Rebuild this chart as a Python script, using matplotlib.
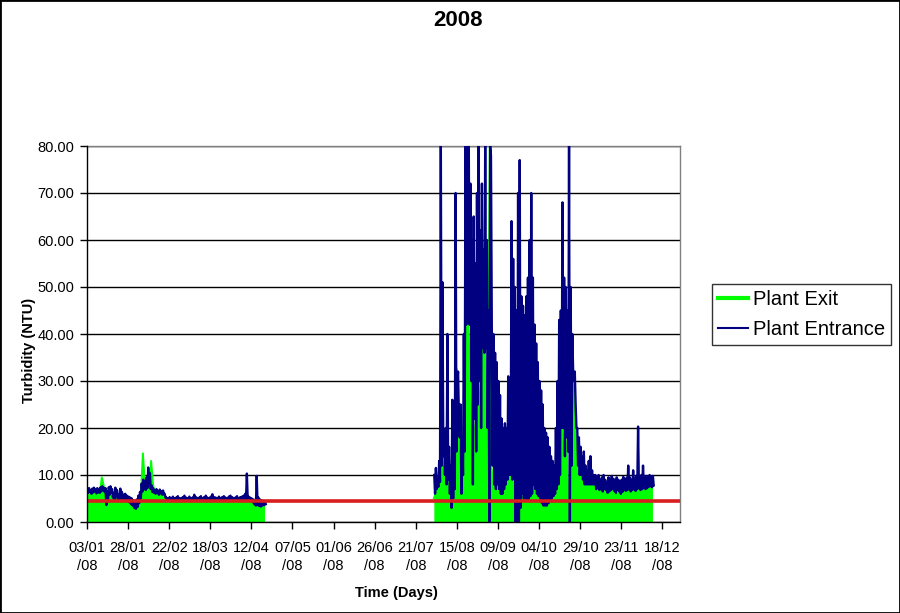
import numpy as np
import pandas as pd
import matplotlib
matplotlib.use("Agg")
import matplotlib.pyplot as plt
import matplotlib.dates as mdates
from matplotlib.lines import Line2D
from matplotlib.patches import Rectangle

plt.rcParams['font.family'] = ['Liberation Sans', 'DejaVu Sans']

title = "2008"
series_names = ["Plant Exit", "Plant Entrance"]
x_label = "Time (Days)"
y_label = "Turbidity (NTU)"
threshold = 4.4
y_ticks = [0, 10, 20, 30, 40, 50, 60, 70, 80]
x_first_tick = "2008-01-03"
x_last_tick = "2008-12-18"
x_end = "2008-12-28 18:00"

# ---- Segment 1: 03/01/08 .. 20/04/08 (daily readings) ----
seg1_start = "2008-01-03"
seg1_exit = [6.2, 6.4, 6.0, 6.3, 6.5, 6.1, 6.3, 6.0, 6.4,
             9.5, 8.0,
             5.6, 5.0, 5.8, 6.0,
             5.2, 5.0, 5.3, 4.9, 4.8, 5.1, 4.9, 4.7, 4.8, 4.6,
             4.4, 4.2, 4.0, 3.8, 3.7, 3.9, 4.3, 5.0,
             7.0, 14.6, 9.0,
             6.8, 7.0, 6.5,
             13.0, 8.5,
             6.2, 6.0, 6.1, 5.9, 5.8, 6.0, 5.0,
             4.6, 4.7, 4.6, 4.5, 4.7, 4.6, 4.6, 4.7, 4.5, 4.6,
             4.7, 4.6, 4.5, 4.6, 4.7, 4.6, 4.5, 4.7, 4.6, 4.6,
             4.5, 4.7, 4.6, 4.6, 4.7, 4.5, 4.6, 4.7, 4.6, 4.5,
             4.6, 4.7, 4.6, 4.5, 4.6, 4.7, 4.6, 4.6, 4.5, 4.7,
             4.6, 4.5, 4.6, 4.7, 4.6, 4.5, 4.6, 4.7,
             4.7, 4.8, 4.6, 4.5, 4.3, 4.2, 4.1, 4.2, 4.0, 4.1, 4.2, 4.3, 4.1]
seg1_ent_hi = [7.0, 7.2, 6.8, 7.1, 7.3, 6.9, 7.2,
               7.0, 7.4, 7.6, 7.3,
               7.2, 6.5, 7.4, 7.6,
               7.0, 6.2, 7.3, 6.8, 5.9, 7.1, 6.4, 5.8, 6.0, 5.6,
               5.4, 5.2, 5.0, 4.6, 4.2, 4.8, 5.6, 6.4,
               8.2, 9.0, 8.4,
               9.5, 11.6, 10.4,
               7.8, 7.2,
               6.8, 7.0, 6.6, 6.9, 6.5, 6.7, 6.0,
               5.2, 5.0, 5.3, 5.1, 5.4, 5.0, 5.2, 5.5, 5.1, 5.0,
               5.3, 5.6, 5.2, 5.0, 5.4, 5.1, 5.2, 5.8, 5.3, 5.1,
               5.2, 5.5, 5.0, 5.3, 5.6, 5.2, 5.1, 5.4, 5.9, 5.3,
               5.2, 5.0, 5.4, 5.1, 5.3, 5.5, 5.2, 5.0, 5.4, 5.6,
               5.3, 5.1, 5.2, 5.5, 5.0, 5.3, 5.4, 5.6,
               6.0, 10.3, 5.4, 5.2, 5.0, 4.8, 4.6, 9.8, 5.2, 4.8, 4.6, 4.5, 4.4]
seg1_ent_lo = [6.2, 6.4, 6.0, 6.3, 6.5, 6.1, 6.3,
               6.2, 6.5, 6.8, 6.4,
               3.6, 4.5, 5.8, 6.2,
               5.2, 4.8, 5.5, 4.9, 4.6, 5.3, 4.8, 4.5, 4.7, 4.4,
               4.2, 3.8, 3.5, 3.0, 2.8, 3.2, 4.0, 5.0,
               6.5, 7.0, 6.8,
               7.2, 7.8, 7.0,
               6.4, 6.2,
               6.0, 6.2, 5.8, 6.1, 5.8, 5.9, 5.2,
               4.8, 4.7, 4.9, 4.8, 4.7, 4.8, 4.9, 4.8, 4.7, 4.8,
               4.9, 4.8, 4.7, 4.8, 4.9, 4.7, 4.8, 4.9, 4.8, 4.7,
               4.8, 4.9, 4.7, 4.8, 4.9, 4.8, 4.7, 4.8, 4.9, 4.8,
               4.7, 4.8, 4.9, 4.7, 4.8, 4.9, 4.8, 4.7, 4.8, 4.9,
               4.8, 4.7, 4.8, 4.9, 4.7, 4.8, 4.9, 4.8,
               4.8, 4.9, 4.7, 4.6, 4.2, 3.8, 3.5, 3.6, 3.4, 3.3, 3.5, 3.6, 3.8]

# ---- Segment 2: 01/08/08 .. 12/12/08 (daily readings) ----
seg2_start = "2008-08-01"
seg2_exit = [5, 6, 7, 8, 12, 14, 10, 8, 9, 8,
             5, 6, 7, 15, 32.5, 18, 8, 10, 15, 42,
             64, 42, 30, 12, 22, 15, 25, 30, 20, 37,
             36, 37, 20, 18, 80, 12, 8, 7, 8, 7,
             6, 6, 7, 8, 9, 10, 10, 9, 10, 0,
             0, 0, 4, 6, 5, 5, 4.5, 5, 5.5, 6,
             8, 7, 6, 5.5, 5, 4.5, 4, 4, 4, 4.2,
             4.5, 5, 5.5, 6, 7, 8, 10, 20, 20, 14,
             18, 15, 0, 12, 32, 32, 20, 12, 10, 10,
             9, 8, 8, 8, 8, 8, 8, 8,
             7.8, 8.0, 7.6, 7.5, 7.2, 7.6, 7.4, 7.0, 7.2, 7.5,
             7.8, 7.4, 7.0, 7.5, 7.2, 6.8, 7.2, 7.6, 7.4, 7.5,
             7.8, 7.4, 7.5, 7.8, 7.4, 7.6, 7.8, 7.5, 7.6, 8.0,
             7.8, 7.9, 8.0, 8.2, 8.0, 8.3]
seg2_ent_hi = [10, 11.5, 9, 13, 80, 51, 18, 20, 40, 16,
               12, 26, 20, 70, 30, 22, 25, 18, 40, 80,
               80, 80, 72, 60, 65, 55, 70, 80, 62, 72,
               58, 80, 60, 45, 80, 42, 40, 36, 34, 30,
               27, 22, 20, 21, 20, 31, 22, 64, 56, 50,
               45, 70, 77, 48, 46, 44, 48, 52, 60, 70,
               52, 42, 38, 34, 30, 28, 25, 20, 19, 18,
               16, 14, 13, 12, 20, 30, 43, 45, 68, 52,
               50, 45, 80, 50, 40, 30, 25, 20, 18, 16,
               14, 15, 12, 11, 13, 14, 11, 10,
               10, 9.5, 10, 9, 9.5, 10, 9, 8.5, 9.5, 9,
               9.8, 9.2, 8.8, 9.5, 9, 8.5, 9, 9.6, 9, 9.4,
               12, 9.5, 9, 11, 9.2, 9.8, 20.3, 9.5, 10, 12,
               9.4, 9.8, 9.2, 10, 9.6, 9.8]
seg2_ent_lo = [6, 7, 7.5, 8.5, 12, 14, 10, 8, 9, 6,
               3, 5, 7, 15, 32, 18, 6, 10, 15, 42,
               64, 42, 30, 8, 22, 15, 25, 30, 20, 37,
               36, 37, 20, 0, 78, 12, 8, 7, 8, 7,
               6, 6, 7, 8, 9, 10, 10, 9, 10, 0,
               0, 0, 3, 6, 5, 5, 4.5, 5, 5.5, 6,
               8, 7, 6, 5.5, 5, 4, 3.5, 3.5, 3.5, 4,
               4.5, 5, 5.5, 6, 7, 8, 10, 20, 20, 14,
               18, 15, 0, 12, 32, 32, 20, 12, 10, 10,
               9, 8, 8, 8, 8, 8, 8, 8,
               7, 7.2, 6.8, 7, 6.5, 7, 6.8, 6.2, 6.5, 6.8,
               7, 6.6, 6.2, 6.8, 6.5, 6, 6.4, 7, 6.6, 6.8,
               7, 6.5, 6.8, 7, 6.6, 7, 7.2, 6.8, 7, 7.4,
               7, 7.2, 7.5, 7.6, 7.4, 7.8]

exit_color = "#00ff00"
ent_color = "#000080"
thr_color = "#d81e1e"

segments = [(seg1_start, seg1_exit, seg1_ent_hi, seg1_ent_lo),
            (seg2_start, seg2_exit, seg2_ent_hi, seg2_ent_lo)]

fig = plt.figure(figsize=(9.0, 6.13), dpi=100)
ax = fig.add_axes([87/900, 1-522/613, (680-87)/900, (522-146)/613])

ent_t, ent_v = [], []
for start, ex, hi, lo in segments:
    days = pd.date_range(start, periods=len(ex), freq="D")
    ax.fill_between(days, 0, ex, color=exit_color, lw=0, zorder=2)
    ax.plot(days, ex, color=exit_color, lw=1.4, zorder=2.1)
    for d, h, l in zip(days, hi, lo):
        ent_t += [d + pd.Timedelta(hours=6), d + pd.Timedelta(hours=18)]
        ent_v += [h, l]
    ent_t.append(days[-1] + pd.Timedelta(hours=23))
    ent_v.append(np.nan)

ax.plot(ent_t, ent_v, color=ent_color, lw=1.7, zorder=3)
ax.axhline(threshold, color=thr_color, lw=2.6, zorder=4)

ax.set_ylim(0, 80)
ax.set_xlim(pd.Timestamp(x_first_tick), pd.Timestamp(x_end))
ax.set_yticks(y_ticks)
ax.set_yticklabels([f"{v:.2f}" for v in y_ticks])
ticks = pd.date_range(x_first_tick, x_last_tick, freq="25D")
ax.set_xticks(ticks)
ax.set_xticklabels([t.strftime("%d/%m\n/%y") for t in ticks], linespacing=1.35)
ax.tick_params(axis='both', direction='out', length=5, width=1, labelsize=10.5, color='black')
ax.tick_params(axis='x', pad=9)
ax.tick_params(axis='y', pad=4)
ax.grid(axis='y', color='black', lw=1, zorder=1)
ax.set_axisbelow(True)
for s in ['top', 'right']:
    ax.spines[s].set_color('#808080')
    ax.spines[s].set_linewidth(1)
for s in ['left', 'bottom']:
    ax.spines[s].set_color('black')
    ax.spines[s].set_linewidth(1)
    ax.spines[s].set_zorder(5)

fig.text(458/900, 1-21/613, title, ha='center', va='center', fontsize=16, fontweight='bold')
fig.text(396/900, 1-593/613, x_label, ha='center', va='center', fontsize=10.5, fontweight='bold')
fig.text(29/900, 1-350/613, y_label, ha='center', va='center', rotation=90, fontsize=10.5, fontweight='bold')

handles = [Line2D([0], [0], color=exit_color, lw=3),
           Line2D([0], [0], color=ent_color, lw=1.5)]
leg = fig.legend(handles, series_names, loc='upper left', bbox_to_anchor=(712/900, 1-284/613),
                 frameon=True, fancybox=False, edgecolor='black', fontsize=14.5,
                 handlelength=1.5, handletextpad=0.25, borderpad=0.3, labelspacing=0.55,
                 borderaxespad=0)
leg.get_frame().set_linewidth(1)

fig.patches.append(Rectangle((0, 0), 1, 1, transform=fig.transFigure, fill=False,
                             edgecolor='black', lw=2, zorder=10))

fig.savefig("out.png", dpi=100)
